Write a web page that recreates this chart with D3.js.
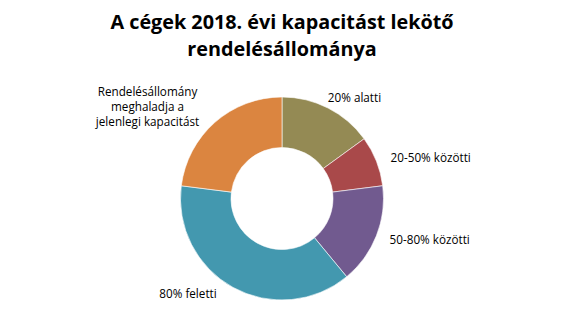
<!DOCTYPE html>
<html><head><meta charset="utf-8">
<script src="https://cdn.jsdelivr.net/npm/d3@7"></script>
<style>body{margin:0;background:#fff}svg{display:block}</style>
</head><body>
<svg id="c" width="564" height="327"></svg>
<script>
const categories = ["20% alatti", "20-50% közötti", "50-80% közötti", "80% feletti", "Rendelésállomány meghaladja a jelenlegi kapacitást"];
const values = [15, 8, 16, 38, 23];
const colors = ["#948A54", "#A9494A", "#715A8F", "#4398AF", "#DB8540"];
const titleLines = ["A cégek 2018. évi kapacitást lekötő", "rendelésállománya"];
const labelLines = [["20% alatti"], ["20-50% közötti"], ["50-80% közötti"], ["80% feletti"], ["Rendelésállomány", "meghaladja a", "jelenlegi kapacitást"]];

const svg = d3.select("#c");
const cx = 282, cy = 198.5, rOuter = 101.5, rInner = 51;

svg.append("g").selectAll("text").data(titleLines).join("text")
  .attr("x", 282).attr("y", (d, i) => 28.5 + i * 27)
  .attr("text-anchor", "middle")
  .attr("font-family", "Open Sans, sans-serif").attr("font-weight", "bold")
  .attr("font-size", 19.8).attr("fill", "#000")
  .text(d => d);

const pie = d3.pie().sort(null).value(d => d)(values);
const arc = d3.arc().innerRadius(rInner).outerRadius(rOuter);
const g = svg.append("g").attr("transform", `translate(${cx},${cy})`);
g.selectAll("path").data(pie).join("path")
  .attr("d", arc).attr("fill", (d, i) => colors[i])
  .attr("stroke", "#fff").attr("stroke-width", 0.6);

// label anchor positions (centre x, first baseline y)
const labelPos = [[354.5, 101.7], [430.7, 161.5], [429.7, 243.5], [188, 297.7], [147.5, 96]];
const lg = svg.append("g").attr("font-family", "Open Sans, sans-serif").attr("font-size", 11.7).attr("fill", "#000");
labelLines.forEach((lines, i) => {
  const t = lg.append("text").attr("text-anchor", "middle");
  lines.forEach((s, j) => {
    t.append("tspan").attr("x", labelPos[i][0]).attr("y", labelPos[i][1] + j * 15).text(s);
  });
});
</script>
</body></html>
